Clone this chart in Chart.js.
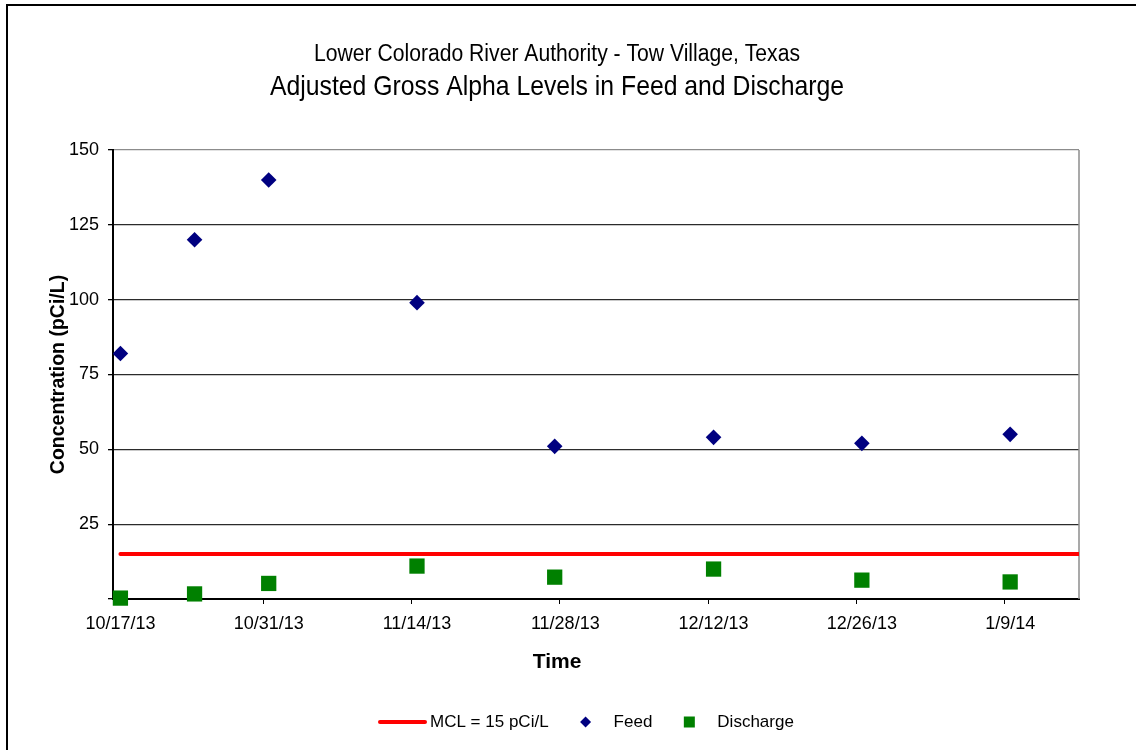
<!DOCTYPE html>
<html>
<head>
<meta charset="utf-8">
<title>Adjusted Gross Alpha Levels in Feed and Discharge</title>
<script src="https://cdn.jsdelivr.net/npm/chart.js@4.4.1/dist/chart.umd.min.js"></script>
<style>
  html, body { margin: 0; padding: 0; background: #ffffff; }
  #wrap { width: 1136px; height: 750px; }
</style>
</head>
<body>
<div id="wrap"><canvas id="chart" width="1136" height="750"></canvas></div>
<script>
// Sample dates (m/d/yy) and measured concentrations, pCi/L
const sampleDates = ['10/17/13', '10/24/13', '10/31/13', '11/14/13', '11/27/13', '12/12/13', '12/26/13', '1/9/14'];
const feedValues = [82, 120, 140, 99, 51, 54, 52, 55];
const dischargeValues = [0.3, 1.7, 5.2, 11, 7.3, 10, 6.3, 5.7];

// Maximum contaminant level reference line
const mclDates = ['10/17/13', '1/16/14'];
const mclValues = [15, 15];

// Date axis labels
const xTickLabels = ['10/17/13', '10/31/13', '11/14/13', '11/28/13', '12/12/13', '12/26/13', '1/9/14'];

const seriesLabels = { mcl: 'MCL = 15 pCi/L', feed: 'Feed', discharge: 'Discharge' };
const titleLines = ['Lower Colorado River Authority - Tow Village, Texas', 'Adjusted Gross Alpha Levels in Feed and Discharge'];

const SANS = "'Liberation Sans', Arial, sans-serif";

// Days since the first sample, so the x axis is a plain linear day count
function dayIndex(str) {
  const [m, d, y] = str.split('/').map(Number);
  return Date.UTC(2000 + y, m - 1, d) / 86400000;
}
const origin = dayIndex(sampleDates[0]);
const toDay = s => dayIndex(s) - origin;

const xTickDays = xTickLabels.map(toDay);
const pairs = (dates, vals) => dates.map((d, i) => ({ x: toDay(d), y: vals[i] }));

// Narrow-style heading: regular sans squeezed horizontally to a set width
function narrowText(ctx, text, cx, cy, size, width) {
  ctx.save();
  ctx.font = size + 'px ' + SANS;
  const k = width / ctx.measureText(text).width;
  ctx.translate(cx, cy);
  ctx.scale(k, 1);
  ctx.textAlign = 'center';
  ctx.textBaseline = 'middle';
  ctx.fillStyle = '#000';
  ctx.fillText(text, 0, 0);
  ctx.restore();
}

const decor = {
  id: 'decor',
  beforeDraw(chart) {
    const ctx = chart.ctx;
    ctx.save();
    ctx.fillStyle = '#ffffff';
    ctx.fillRect(0, 0, chart.width, chart.height);
    ctx.fillStyle = '#000000';
    ctx.fillRect(6, 4, chart.width, 2);
    ctx.fillRect(6, 4, 2, chart.height);
    ctx.restore();
  },
  beforeDatasetsDraw(chart) {
    const { ctx, chartArea: a } = chart;
    ctx.save();
    ctx.strokeStyle = '#8c8c8c';
    ctx.lineWidth = 1.5;
    ctx.beginPath();
    ctx.moveTo(a.right, a.top);
    ctx.lineTo(a.right, a.bottom);
    ctx.stroke();
    ctx.restore();
  },
  afterDraw(chart) {
    const ctx = chart.ctx;

    // two-line heading
    narrowText(ctx, titleLines[0], 557, 55, 23, 486);
    narrowText(ctx, titleLines[1], 557, 87, 28, 574);

    ctx.save();
    // x axis title
    ctx.fillStyle = '#000';
    ctx.font = 'bold 21px ' + SANS;
    ctx.textAlign = 'center';
    ctx.textBaseline = 'middle';
    ctx.fillText('Time', 557, 662);

    // legend
    const ly = 722;
    ctx.font = '17px ' + SANS;
    ctx.textAlign = 'left';
    let x = 378;
    chart.data.datasets.forEach(ds => {
      if (ds.showLine) {
        ctx.strokeStyle = ds.borderColor;
        ctx.lineWidth = 4;
        ctx.lineCap = 'round';
        ctx.beginPath();
        ctx.moveTo(x + 2, ly);
        ctx.lineTo(x + 47, ly);
        ctx.stroke();
        x += 52;
      } else {
        ctx.fillStyle = ds.backgroundColor;
        ctx.beginPath();
        if (ds.pointStyle === 'rectRot') {
          ctx.moveTo(x - 0.5, ly); ctx.lineTo(x + 5, ly - 5.5); ctx.lineTo(x + 10.5, ly); ctx.lineTo(x + 5, ly + 5.5);
          ctx.closePath();
        } else {
          ctx.rect(x - 0.5, ly - 5.5, 11, 11);
        }
        ctx.fill();
        x += 33;
      }
      ctx.fillStyle = '#000';
      ctx.fillText(ds.label, x, ly);
      x += ctx.measureText(ds.label).width + 32;
    });
    ctx.restore();
  }
};

new Chart(document.getElementById('chart'), {
  type: 'scatter',
  data: {
    datasets: [
      {
        label: seriesLabels.mcl,
        data: pairs(mclDates, mclValues),
        showLine: true,
        borderColor: '#ff0000',
        backgroundColor: '#ff0000',
        borderWidth: 4,
        borderCapStyle: 'round',
        pointRadius: 0,
        pointHoverRadius: 0
      },
      {
        label: seriesLabels.feed,
        data: pairs(sampleDates, feedValues),
        pointStyle: 'rectRot',
        pointRadius: 7.8,
        backgroundColor: '#000080',
        borderColor: '#000080',
        borderWidth: 0
      },
      {
        label: seriesLabels.discharge,
        data: pairs(sampleDates, dischargeValues),
        pointStyle: 'rect',
        pointRadius: 10.8,
        backgroundColor: '#008000',
        borderColor: '#008000',
        borderWidth: 0,
        clip: false
      }
    ]
  },
  options: {
    responsive: false,
    animation: false,
    devicePixelRatio: 1,
    layout: { padding: { left: 35, right: 57, top: 150, bottom: 91 } },
    plugins: {
      legend: { display: false },
      tooltip: { enabled: false }
    },
    scales: {
      x: {
        type: 'linear',
        min: -0.7,
        max: 90.5,
        afterBuildTicks: s => { s.ticks = xTickDays.map(d => ({ value: d - 0.5 })); },
        afterFit: s => { s.height = 60; },
        ticks: {
          autoSkip: false,
          maxRotation: 0,
          minRotation: 0,
          labelOffset: 5.3,
          padding: 9,
          color: '#000',
          font: { family: SANS, size: 18 },
          callback: v => {
            const i = xTickDays.findIndex(d => Math.abs(d - 0.5 - v) < 1e-6);
            return i >= 0 ? xTickLabels[i] : '';
          }
        },
        grid: { drawOnChartArea: false, tickLength: 5, color: '#000', lineWidth: 1 },
        border: { color: '#000', width: 2 }
      },
      y: {
        min: 0,
        max: 150,
        afterFit: s => { s.width = 78; },
        ticks: {
          stepSize: 25,
          padding: 9,
          color: '#000',
          font: { family: SANS, size: 18 },
          callback: v => (v === 0 ? '' : v)
        },
        grid: {
          color: c => (c.tick && c.tick.value === 150 ? '#8c8c8c' : '#2b2b2b'),
          tickColor: '#000',
          tickLength: 5,
          lineWidth: 1.3
        },
        border: { color: '#000', width: 2 },
        title: {
          display: true,
          text: 'Concentration (pCi/L)',
          color: '#000',
          font: { family: SANS, size: 19.5, weight: 'bold' },
          padding: { top: 12.3, bottom: 0 }
        }
      }
    }
  },
  plugins: [decor]
});
</script>
</body>
</html>
